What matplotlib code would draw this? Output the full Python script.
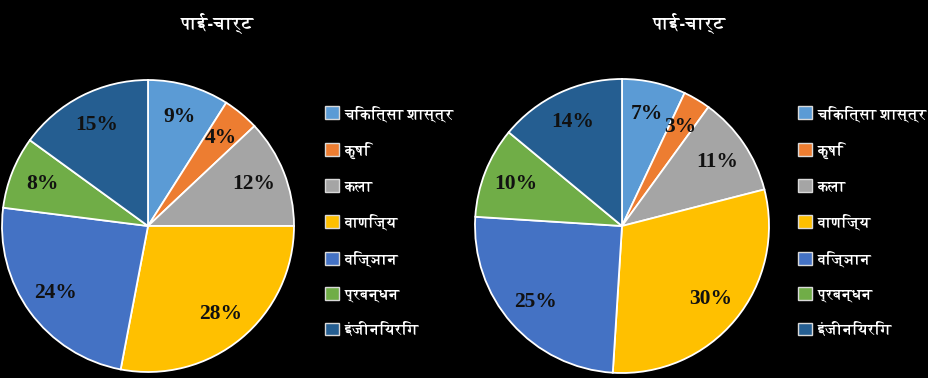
import matplotlib
matplotlib.use("Agg")
import matplotlib.pyplot as plt
from matplotlib import font_manager
from matplotlib.ft2font import FT2Font

# categories and values (two pies)
categories = ["चिकित्सा शास्त्र", "कृषि", "कला", "वाणिज्य", "विज्ञान", "प्रबन्धन", "इंजीनियरिंग"]
values_left = [9, 4, 12, 28, 24, 8, 15]
values_right = [7, 3, 11, 30, 25, 10, 14]
title_text = "पाई-चार्ट"
colors = ["#5B9BD5", "#ED7D31", "#A5A5A5", "#FFC000", "#4472C4", "#70AD47", "#255E91"]


# find a font that has Devanagari glyphs (prefer a bold face)
def find_deva_font():
    found = []
    for f in font_manager.fontManager.ttflist:
        try:
            cmap = FT2Font(f.fname).get_charmap()
        except Exception:
            continue
        if 0x0915 in cmap and 0x093F in cmap:
            found.append(f)
    if not found:
        return None, "normal"
    bold = [f for f in found if f.weight in ("bold", 700) or str(f.weight) == "700"]
    if bold:
        return bold[0].name, "bold"
    return found[0].name, "normal"


deva, deva_weight = find_deva_font()
fams = ([deva] if deva else []) + ["DejaVu Sans"]
plt.rcParams["font.family"] = fams

W, H = 929, 378
fig = plt.figure(figsize=(W / 100, H / 100), dpi=100)
fig.patch.set_facecolor("black")


def draw_pie(cx, cy, r, vals, title_x, legend_x):
    ax = fig.add_axes([(cx - r) / W, (H - cy - r) / H, 2 * r / W, 2 * r / H])
    ax.set_facecolor("black")
    wedges, _, autotexts = ax.pie(vals, colors=colors, startangle=90, counterclock=False,
                                  autopct=lambda p: f"{p:.0f}%", pctdistance=0.78,
                                  wedgeprops=dict(edgecolor="white", linewidth=1.3))
    for t in autotexts:
        t.set_fontfamily("Liberation Serif")
        t.set_fontweight("bold")
        t.set_fontsize(15.5)
        t.set_color("#111111")
    ax.set_xlim(-1, 1)
    ax.set_ylim(-1, 1)
    ax.set_aspect("equal")
    fig.text(title_x / W, 1 - 23 / H, title_text, color="white", fontsize=13,
             fontweight=deva_weight, ha="center", va="center", family=fams)
    leg = fig.legend(wedges, categories, loc="upper left",
                     bbox_to_anchor=(legend_x / W, 1 - 105 / H),
                     frameon=False, prop=dict(family=fams, size=11, weight=deva_weight),
                     labelcolor="white",
                     handlelength=0.9, handleheight=0.9, handletextpad=0.4,
                     labelspacing=1.32, borderaxespad=0, borderpad=0)
    for h in leg.legend_handles:
        h.set_edgecolor("#d9d9d9")
        h.set_linewidth(1.0)
    return ax


draw_pie(148, 226, 146, values_left, 217, 325)
draw_pie(622, 226, 147, values_right, 689, 798)

fig.savefig("out.png", dpi=100, facecolor="black")
